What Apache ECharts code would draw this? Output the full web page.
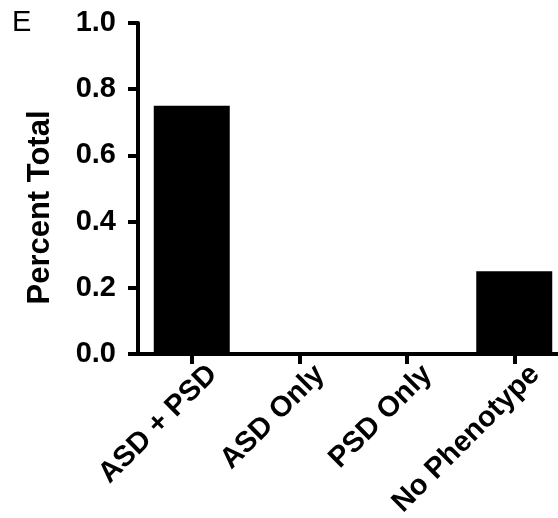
<!DOCTYPE html>
<html>
<head>
<meta charset="utf-8">
<script src="https://cdn.jsdelivr.net/npm/echarts@6/dist/echarts.min.js"></script>
<style>
html,body{margin:0;padding:0;background:#fff;}
#chart{width:558px;height:518px;}
</style>
</head>
<body>
<div id="chart"></div>
<script>
const categories = ['ASD + PSD', 'ASD Only', 'PSD Only', 'No Phenotype'];
const values = [0.75, 0, 0, 0.25];
const yTicks = { min: 0, max: 1.0, interval: 0.2 };
const panelLabel = 'E';
const yTitle = 'Percent Total';

const FONT = 'Liberation Sans, Arial, sans-serif';
const chart = echarts.init(document.getElementById('chart'), null, { renderer: 'canvas' });
chart.setOption({
  animation: false,
  backgroundColor: '#fff',
  graphic: [{
    type: 'text', left: 12, top: 8,
    style: { text: panelLabel, font: 'normal 29px ' + FONT, fill: '#000' }
  }],
  grid: { left: 138, width: 430, top: 23, height: 331, containLabel: false, outerBoundsMode: 'none' },
  xAxis: {
    type: 'category',
    data: categories,
    axisLine: { lineStyle: { color: '#000', width: 4 } },
    axisTick: { show: true, alignWithLabel: true, length: 10, lineStyle: { color: '#000', width: 4 } },
    axisLabel: {
      rotate: 45, interval: 0, margin: -5,
      color: '#000', fontFamily: FONT, fontWeight: 'bold', fontSize: 29,
      align: 'right', verticalAlign: 'top', lineHeight: 29, padding: [15, 0, 0, 0]
    },
    splitLine: { show: false }
  },
  yAxis: {
    type: 'value',
    min: yTicks.min, max: yTicks.max, interval: yTicks.interval,
    name: yTitle, nameLocation: 'middle', nameGap: 82,
    nameTextStyle: { color: '#000', fontFamily: FONT, fontWeight: 'bold', fontSize: 31, padding: [0, 38, 0, 0] },
    axisLine: { show: true, lineStyle: { color: '#000', width: 4 } },
    axisTick: { show: true, length: 10, lineStyle: { color: '#000', width: 4 } },
    axisLabel: {
      margin: 22, color: '#000', fontFamily: FONT, fontWeight: 'bold', fontSize: 29,
      formatter: v => v.toFixed(1)
    },
    splitLine: { show: false }
  },
  series: [{
    type: 'bar',
    data: values,
    barWidth: 76,
    itemStyle: { color: '#000' }
  }]
});
</script>
</body>
</html>
